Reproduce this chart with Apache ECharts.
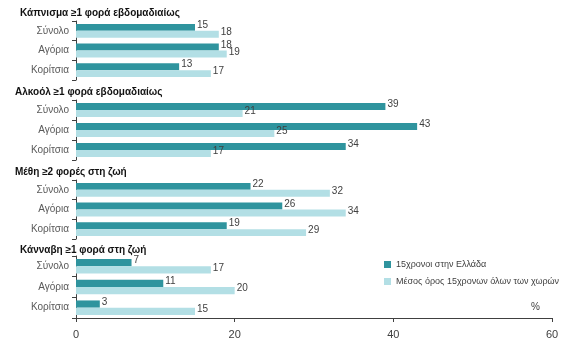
<!DOCTYPE html>
<html>
<head>
<meta charset="utf-8">
<script src="https://cdn.jsdelivr.net/npm/echarts@6/dist/echarts.min.js"></script>
<style>
  html, body { margin: 0; padding: 0; background: #fff; }
  #chart { width: 574px; height: 351px; }
</style>
</head>
<body>
<div id="chart"></div>
<script>
// δεδομένα
const categories = ['Σύνολο', 'Αγόρια', 'Κορίτσια']
const sections = ['Κάπνισμα ≥1 φορά εβδομαδιαίως', 'Αλκοόλ ≥1 φορά εβδομαδιαίως', 'Μέθη ≥2 φορές στη ζωή', 'Κάνναβη ≥1 φορά στη ζωή']
const seriesNames = ['15χρονοι στην Ελλάδα', 'Μέσος όρος 15χρονων όλων των χωρών']
const greece = [
  [15, 18, 13],
  [39, 43, 34],
  [22, 26, 19],
  [7, 11, 3]
]
const average = [
  [18, 19, 17],
  [21, 25, 17],
  [32, 34, 29],
  [17, 20, 15]
]
const xTicks = [0, 20, 40, 60]

const darkColor = '#2f949e'
const lightColor = '#b3dfe5'
const font = 'Liberation Sans'

const gridTops = [21, 100, 180, 256]
const gridHeights = [59, 60, 59, 62]
const titleTops = [8, 87, 167, 245]
const titleLefts = [20, 15, 15, 20]

const grids = []
const xAxes = []
const yAxes = []
const series = []
const titles = []

sections.forEach((name, i) => {
  grids.push({ left: 76, width: 476, top: gridTops[i], height: gridHeights[i] })
  const isLast = i === sections.length - 1
  xAxes.push({
    gridIndex: i,
    type: 'value',
    min: xTicks[0],
    max: xTicks[xTicks.length - 1],
    interval: 20,
    show: isLast,
    splitLine: { show: false },
    axisLine: { show: true, lineStyle: { color: '#404040', width: 1 } },
    axisTick: { show: true, length: 4, lineStyle: { color: '#404040' } },
    axisLabel: { color: '#404040', fontSize: 11, fontFamily: font, margin: 11 }
  })
  yAxes.push({
    gridIndex: i,
    type: 'category',
    inverse: true,
    data: categories,
    axisLine: { show: true, lineStyle: { color: '#404040', width: 1 } },
    axisTick: { show: true, length: 4, lineStyle: { color: '#404040' } },
    axisLabel: { color: '#595959', fontSize: 10, fontFamily: font, margin: 7 }
  })
  titles.push({
    text: name,
    left: titleLefts[i],
    top: titleTops[i],
    padding: 0,
    textStyle: { fontSize: 10, fontWeight: 'bold', color: '#111', fontFamily: font }
  })
  const label = {
    show: true,
    position: 'right',
    distance: 2,
    offset: [0, -2],
    color: '#404040',
    fontSize: 10,
    fontFamily: font
  }
  series.push({
    name: seriesNames[0],
    type: 'bar',
    xAxisIndex: i,
    yAxisIndex: i,
    data: greece[i],
    barGap: '0%',
    barCategoryGap: '30%',
    itemStyle: { color: darkColor },
    label: label
  })
  series.push({
    name: seriesNames[1],
    type: 'bar',
    xAxisIndex: i,
    yAxisIndex: i,
    data: average[i],
    barGap: '0%',
    barCategoryGap: '30%',
    itemStyle: { color: lightColor },
    label: label
  })
})

const chart = echarts.init(document.getElementById('chart'))
chart.setOption({
  animation: false,
  title: titles,
  grid: grids,
  xAxis: xAxes,
  yAxis: yAxes,
  legend: {
    data: seriesNames,
    orient: 'vertical',
    left: 384,
    top: 260,
    padding: 0,
    itemWidth: 7,
    itemHeight: 7,
    itemGap: 8,
    icon: 'rect',
    textStyle: { color: '#404040', fontSize: 9, fontFamily: font }
  },
  graphic: [{
    type: 'text',
    left: 531,
    top: 302,
    style: { text: '%', fill: '#404040', fontSize: 10, fontFamily: font }
  }],
  series: series
})
</script>
</body>
</html>
